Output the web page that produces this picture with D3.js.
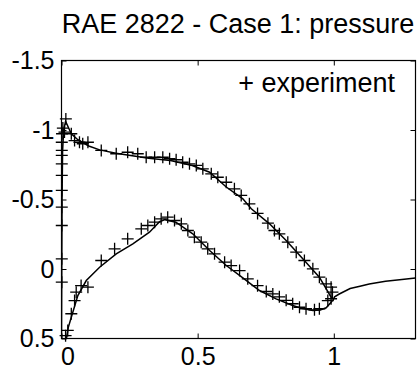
<!DOCTYPE html>
<html><head><meta charset="utf-8">
<script src="https://cdn.jsdelivr.net/npm/d3@7"></script>
<style>html,body{margin:0;padding:0;background:#fff;}svg{display:block;}</style>
</head><body>
<svg id="c" width="417" height="371"></svg>
<script>
const titleText = "RAE 2822 - Case 1: pressure";
const legendText = "+ experiment";
const xTicks = [0, 0.5, 1];
const yTicks = [-1.5, -1, -0.5, 0, 0.5];

// CFD solution: upper surface
const cfdUpperX  = [0, 0.001, 0.002, 0.004, 0.008, 0.015, 0.025, 0.036, 0.06, 0.1, 0.14, 0.2, 0.26, 0.32, 0.4, 0.48, 0.544, 0.605, 0.666, 0.697, 0.764, 0.825, 0.886, 0.947, 0.99, 1.0];
const cfdUpperCp = [0.5, 0.0, -0.5, -0.85, -1.0, -1.063, -1.02, -0.973, -0.93, -0.885, -0.857, -0.833, -0.815, -0.797, -0.78, -0.745, -0.696, -0.59, -0.505, -0.433, -0.325, -0.205, -0.073, 0.059, 0.203, 0.215];
// CFD solution: lower surface
const cfdLowerX  = [0.018, 0.025, 0.036, 0.06, 0.091, 0.14, 0.201, 0.262, 0.323, 0.36, 0.38, 0.42, 0.482, 0.544, 0.605, 0.666, 0.727, 0.788, 0.849, 0.886, 0.923, 0.95, 0.972, 0.99, 1.0];
const cfdLowerCp = [0.5, 0.42, 0.347, 0.191, 0.083, -0.013, -0.109, -0.181, -0.265, -0.34, -0.355, -0.337, -0.253, -0.133, -0.025, 0.064, 0.155, 0.215, 0.263, 0.285, 0.299, 0.295, 0.279, 0.239, 0.215];
// CFD solution: wake
const cfdWakeX  = [1.0, 1.003, 1.02, 1.06, 1.1, 1.13, 1.19, 1.25, 1.3];
const cfdWakeCp = [0.215, 0.2, 0.18, 0.14, 0.122, 0.108, 0.088, 0.075, 0.064];

// experiment: upper surface
const expUpperX  = [0.001, 0.001, 0.001, 0.001, 0.001, 0.001, 0.001, 0.001, 0.001, 0.001, 0.002, 0.005, 0.011, 0.016, 0.036, 0.048, 0.066, 0.078, 0.097, 0.146, 0.201, 0.243, 0.280, 0.311, 0.342, 0.372, 0.397, 0.421, 0.445, 0.470, 0.495, 0.519, 0.550, 0.574, 0.605, 0.635, 0.660, 0.690, 0.720, 0.758, 0.782, 0.800, 0.831, 0.862, 0.892, 0.923, 0.947, 0.972, 0.990, 0.995];
const expUpperCp = [0.095, -0.073, -0.313, -0.445, -0.565, -0.673, -0.757, -0.817, -0.853, -0.912, -0.973, -1.014, -0.985, -1.08, -0.973, -0.924, -0.912, -0.901, -0.912, -0.853, -0.829, -0.84, -0.829, -0.804, -0.804, -0.804, -0.793, -0.786, -0.768, -0.757, -0.745, -0.721, -0.685, -0.66, -0.624, -0.577, -0.529, -0.469, -0.40, -0.33, -0.277, -0.253, -0.193, -0.121, -0.061, -0.001, 0.059, 0.107, 0.131, 0.167];
// experiment: lower surface
const expLowerX  = [0.015, 0.023, 0.036, 0.048, 0.054, 0.072, 0.097, 0.146, 0.195, 0.243, 0.293, 0.317, 0.342, 0.366, 0.390, 0.415, 0.440, 0.464, 0.488, 0.513, 0.537, 0.562, 0.599, 0.623, 0.654, 0.684, 0.720, 0.752, 0.776, 0.80, 0.825, 0.849, 0.874, 0.898, 0.929, 0.947, 0.978, 0.990];
const expLowerCp = [0.48, 0.442, 0.322, 0.227, 0.167, 0.119, 0.131, -0.061, -0.145, -0.217, -0.289, -0.313, -0.337, -0.361, -0.373, -0.349, -0.325, -0.277, -0.229, -0.193, -0.145, -0.109, -0.049, -0.025, 0.011, 0.071, 0.12, 0.162, 0.179, 0.20, 0.225, 0.25, 0.275, 0.286, 0.294, 0.286, 0.227, 0.214];

const FONT = "'Liberation Sans', Arial, Helvetica, sans-serif";
const L = 61.5, R = 415.5, T = 60.5, B = 338.5;

const svg = d3.select("#c");
const x = d3.scaleLinear().domain([0, 1.3]).range([L, R]);
const y = d3.scaleLinear().domain([-1.5, 0.5]).range([T, B]);

svg.append("defs").append("clipPath").attr("id", "clip")
  .append("rect").attr("x", L).attr("y", T).attr("width", R - L).attr("height", B - T);

// title
svg.append("text").attr("x", 238).attr("y", 33).attr("text-anchor", "middle")
  .style("font-family", FONT).style("font-size", "27px").attr("fill", "#000").text(titleText);

// axes (inward ticks on all four sides)
const fmt = d => String(d);
const gl = svg.append("g").attr("transform", `translate(${L},0)`)
  .call(d3.axisLeft(y).tickValues(yTicks).tickSize(-5).tickPadding(7).tickFormat(fmt));
const gb = svg.append("g").attr("transform", `translate(0,${B})`)
  .call(d3.axisBottom(x).tickValues(xTicks).tickSize(-5).tickPadding(9).tickFormat(fmt));
svg.append("g").attr("transform", `translate(0,${T})`)
  .call(d3.axisTop(x).tickValues(xTicks).tickSize(-5).tickFormat(""));
svg.append("g").attr("transform", `translate(${R},0)`)
  .call(d3.axisRight(y).tickValues(yTicks).tickSize(-5).tickFormat(""));
svg.selectAll(".domain").remove();
svg.selectAll(".tick line").attr("stroke", "#000").attr("stroke-width", 1);
svg.selectAll(".tick text").attr("fill", "#000").style("font-family", FONT).style("font-size", "25px");
gb.selectAll(".tick text").filter(d => d === 0).attr("dx", 6);

// frame
svg.append("rect").attr("x", L).attr("y", T).attr("width", R - L).attr("height", B - T)
  .attr("fill", "none").attr("stroke", "#000").attr("stroke-width", 1.2);

// CFD lines
const line = d3.line().x(d => x(d[0])).y(d => y(d[1]));
const plot = svg.append("g").attr("clip-path", "url(#clip)");
[[cfdUpperX, cfdUpperCp], [cfdLowerX, cfdLowerCp], [cfdWakeX, cfdWakeCp]].forEach(([xs, ys]) => {
  plot.append("path").datum(xs.map((v, i) => [v, ys[i]])).attr("d", line)
    .attr("fill", "none").attr("stroke", "#000").attr("stroke-width", 1.5);
});

// experiment markers
const plus = "M-6,0H6M0,-6V6";
const expPts = expUpperX.map((v, i) => [v, expUpperCp[i]])
  .concat(expLowerX.map((v, i) => [v, expLowerCp[i]]));
svg.append("g").selectAll("path").data(expPts).join("path")
  .attr("transform", d => `translate(${x(d[0])},${y(d[1])})`)
  .attr("d", plus).attr("fill", "none").attr("stroke", "#000").attr("stroke-width", 1.3);

// legend
svg.append("text").attr("x", 395).attr("y", 92).attr("text-anchor", "end")
  .style("font-family", FONT).style("font-size", "27px").attr("fill", "#000").text(legendText);
</script>
</body></html>
